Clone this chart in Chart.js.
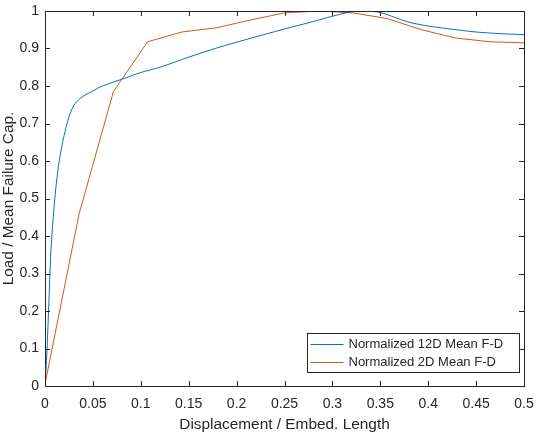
<!DOCTYPE html>
<html>
<head>
<meta charset="utf-8">
<script src="https://cdn.jsdelivr.net/npm/chart.js@4/dist/chart.umd.min.js"></script>
<style>
  html, body { margin: 0; padding: 0; background: #fff; }
  #wrap { width: 536px; height: 434px; }
</style>
</head>
<body>
<div id="wrap"><canvas id="chart1"></canvas></div>
<script>
// 12D mean F-D, normalized
const x12D = [0, 0.002, 0.004, 0.006, 0.008, 0.011, 0.014, 0.018, 0.022, 0.026, 0.03, 0.035, 0.04, 0.05, 0.06, 0.08, 0.1, 0.12, 0.15, 0.18, 0.21, 0.25, 0.28, 0.3, 0.32, 0.335, 0.35, 0.365, 0.38, 0.4, 0.42, 0.45, 0.48, 0.5];
const y12D = [0, 0.09, 0.22, 0.35, 0.43, 0.52, 0.585, 0.645, 0.69, 0.725, 0.748, 0.763, 0.773, 0.787, 0.8, 0.818, 0.836, 0.85, 0.877, 0.902, 0.924, 0.952, 0.972, 0.986, 0.998, 1.0, 0.996, 0.983, 0.97, 0.96, 0.953, 0.944, 0.939, 0.937];

// 2D mean F-D, normalized
const x2D = [0, 0.0357, 0.0714, 0.1071, 0.1429, 0.1786, 0.2143, 0.25, 0.2857, 0.3214, 0.3571, 0.3929, 0.4286, 0.4643, 0.5];
const y2D = [0.005, 0.46, 0.785, 0.918, 0.944, 0.955, 0.976, 0.995, 1.0, 0.995, 0.98, 0.95, 0.928, 0.918, 0.915];

const xTickValues = [0, 0.05, 0.1, 0.15, 0.2, 0.25, 0.3, 0.35, 0.4, 0.45, 0.5];
const yTickValues = [0, 0.1, 0.2, 0.3, 0.4, 0.5, 0.6, 0.7, 0.8, 0.9, 1];

const FONT = '"Liberation Sans", Arial, Helvetica, sans-serif';
const AXIS = '#262626';

const toPoints = (xs, ys) => xs.map((x, i) => ({ x: x, y: ys[i] }));

// box around the axes with inward tick marks on all sides (matlab style)
const boxPlugin = {
  id: 'box',
  afterDraw(chart) {
    const ctx = chart.ctx;
    const a = chart.chartArea;
    const xs = chart.scales.x, ys = chart.scales.y;
    const tl = 5;
    ctx.save();
    ctx.strokeStyle = AXIS;
    ctx.lineWidth = 1;
    ctx.beginPath();
    xTickValues.forEach(v => {
      const px = Math.round(xs.getPixelForValue(v)) + 0.5;
      ctx.moveTo(px, a.bottom); ctx.lineTo(px, a.bottom - tl);
      ctx.moveTo(px, a.top); ctx.lineTo(px, a.top + tl);
    });
    yTickValues.forEach(v => {
      const py = Math.round(ys.getPixelForValue(v)) + 0.5;
      ctx.moveTo(a.left, py); ctx.lineTo(a.left + tl, py);
      ctx.moveTo(a.right, py); ctx.lineTo(a.right - tl, py);
    });
    ctx.stroke();
    ctx.strokeRect(a.left + 0.5, a.top + 0.5, a.right - a.left, a.bottom - a.top);

    // legend, lower right inside the axes
    const lx = 307.5, ly = 333.5, lw = 212, lh = 39;
    ctx.fillStyle = '#fff';
    ctx.fillRect(lx, ly, lw, lh);
    ctx.strokeRect(lx, ly, lw, lh);
    ctx.font = '13px ' + FONT;
    ctx.textBaseline = 'middle';
    chart.data.datasets.forEach((ds, i) => {
      const y = ly + 11 + i * 18;
      ctx.strokeStyle = ds.borderColor;
      ctx.beginPath();
      ctx.moveTo(lx + 3, y); ctx.lineTo(lx + 36, y);
      ctx.stroke();
      ctx.fillStyle = AXIS;
      ctx.fillText(ds.label, lx + 41, y);
    });
    ctx.restore();
  }
};

const ctx1 = document.getElementById('chart1').getContext('2d');
const chart1 = new Chart(ctx1, {
  type: 'line',
  data: {
    datasets: [{
      label: 'Normalized 12D Mean F-D',
      data: toPoints(x12D, y12D),
      borderColor: '#0072BD',
      borderWidth: 1,
      pointRadius: 0,
      tension: 0.3,
      fill: false
    }, {
      label: 'Normalized 2D Mean F-D',
      data: toPoints(x2D, y2D),
      borderColor: '#D95319',
      borderWidth: 1,
      pointRadius: 0,
      tension: 0,
      fill: false
    }]
  },
  options: {
    responsive: true,
    maintainAspectRatio: false,
    animation: false,
    layout: { padding: { top: 11, right: 12, left: 0, bottom: 0 } },
    plugins: {
      legend: { display: false },
      tooltip: { enabled: false }
    },
    scales: {
      x: {
        type: 'linear',
        min: 0,
        max: 0.5,
        afterBuildTicks: s => { s.ticks = xTickValues.map(v => ({ value: v })); },
        afterFit: s => { s.height = 48; s.paddingLeft = 0; s.paddingRight = 0; },
        grid: { display: false, drawTicks: false },
        border: { display: false },
        ticks: {
          maxRotation: 0,
          autoSkip: false,
          padding: 10,
          color: AXIS,
          font: { family: FONT, size: 14 },
          callback: v => String(v)
        },
        title: {
          display: true,
          text: 'Displacement / Embed. Length',
          color: AXIS,
          font: { family: FONT, size: 15.4 },
          padding: { top: 0, bottom: 0 }
        }
      },
      y: {
        type: 'linear',
        min: 0,
        max: 1,
        afterBuildTicks: s => { s.ticks = yTickValues.map(v => ({ value: v })); },
        afterFit: s => { s.width = 45; s.paddingTop = 0; s.paddingBottom = 0; },
        grid: { display: false, drawTicks: false },
        border: { display: false },
        ticks: {
          autoSkip: false,
          padding: 6,
          color: AXIS,
          font: { family: FONT, size: 14 },
          callback: v => String(v)
        },
        title: {
          display: true,
          text: 'Load / Mean Failure Cap.',
          color: AXIS,
          font: { family: FONT, size: 15.4 },
          padding: { top: 0, bottom: 0 }
        }
      }
    }
  },
  plugins: [boxPlugin]
});
</script>
</body>
</html>
